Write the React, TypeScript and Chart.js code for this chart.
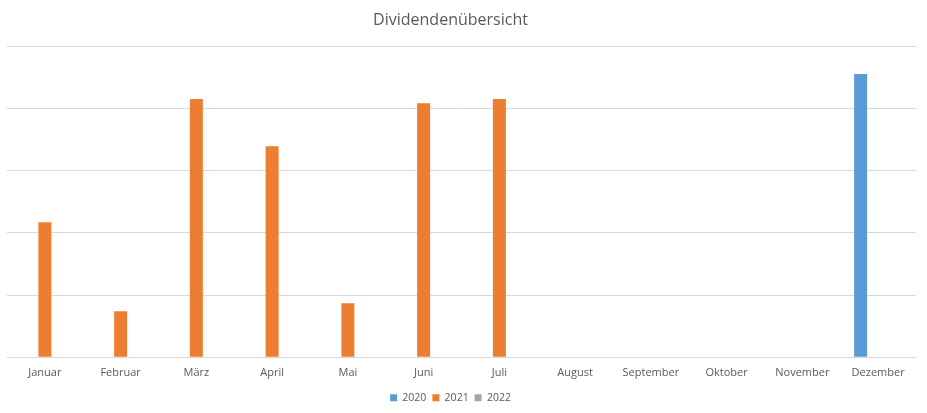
import React, { useEffect, useRef } from "react";
import { Chart, registerables } from "chart.js";

Chart.register(...registerables);

const categories = ["Januar", "Februar", "März", "April", "Mai", "Juni", "Juli", "August", "September", "Oktober", "November", "Dezember"];
const series2020 = [null, null, null, null, null, null, null, null, null, null, null, 4.55];
const series2021 = [2.17, 0.74, 4.15, 3.39, 0.87, 4.08, 4.15, null, null, null, null, null];
const series2022 = [null, null, null, null, null, null, null, null, null, null, null, null];
const yTicks = [0, 1, 2, 3, 4, 5];

const shiftPlugin = {
  id: "shiftBlocks",
  afterLayout(chart: any) {
    const dx = -11;
    for (const b of [chart.titleBlock, chart.legend]) {
      if (b) {
        b.left += dx;
        b.right += dx;
      }
    }
  },
};

export default function App() {
  const ref = useRef<HTMLCanvasElement>(null);
  useEffect(() => {
    if (!ref.current) return;
    const font = "'Open Sans', 'DejaVu Sans', sans-serif";
    const chart = new Chart(ref.current, {
      type: "bar",
      data: {
        labels: categories,
        datasets: [
          { label: "2020", data: series2020, backgroundColor: "#5B9BD5" },
          { label: "2021", data: series2021, backgroundColor: "#ED7D31" },
          { label: "2022", data: series2022, backgroundColor: "#A5A5A5" },
        ],
      },
      plugins: [shiftPlugin],
      options: {
        responsive: false,
        animation: false,
        datasets: { bar: { categoryPercentage: 0.693, barPercentage: 0.743 } },
        layout: { padding: { left: 7, right: 11, top: 0, bottom: 0 } },
        plugins: {
          title: {
            display: true,
            text: "Dividendenübersicht",
            color: "#595959",
            font: { family: font, size: 16, weight: "normal" },
            padding: { top: 10.4, bottom: 16.4 },
          },
          legend: {
            position: "bottom",
            labels: {
              boxWidth: 7,
              boxHeight: 7,
              padding: 6,
              color: "#595959",
              font: { family: font, size: 10.5 },
            },
          },
          tooltip: { enabled: false },
        },
        scales: {
          x: {
            grid: { display: false },
            border: { display: true, color: "#d9d9d9" },
            ticks: { color: "#595959", font: { family: font, size: 11 }, padding: 1, maxRotation: 0, autoSkip: false },
            afterFit: (axis: any) => {
              axis.height += 6;
            },
          },
          y: {
            min: yTicks[0],
            max: yTicks[yTicks.length - 1],
            afterBuildTicks: (axis: any) => {
              axis.ticks = yTicks.map((v) => ({ value: v }));
            },
            ticks: { display: false },
            grid: { color: "#d9d9d9", drawTicks: false },
            border: { display: false },
          },
        },
      },
    });
    return () => chart.destroy();
  }, []);
  return (
    <div style={{ position: "absolute", left: 0, top: 0, width: 927, height: 413, background: "#fff" }}>
      <canvas ref={ref} width={927} height={413} />
    </div>
  );
}
